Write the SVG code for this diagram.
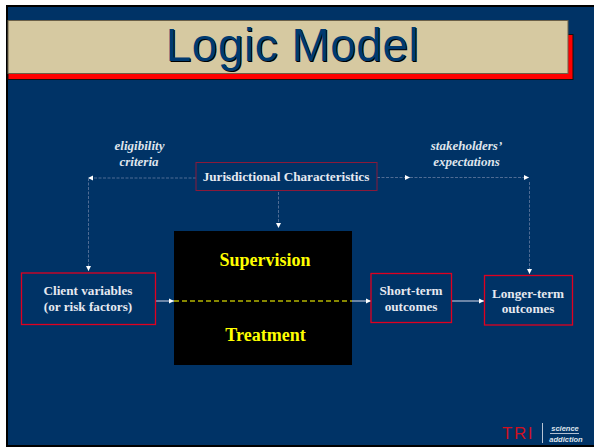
<svg xmlns="http://www.w3.org/2000/svg" width="594" height="447" viewBox="0 0 594 447">
<style>
.b{font-family:"Liberation Serif",serif;font-weight:bold;font-size:13.200px;fill:#e6e9f0;text-anchor:middle}
.i{font-family:"Liberation Serif",serif;font-weight:bold;font-style:italic;font-size:13px;fill:#dfe4ec;text-anchor:middle}
.y{font-family:"Liberation Serif",serif;font-weight:bold;font-size:18px;fill:#ffff00;text-anchor:middle}
.d{fill:none;stroke:#4f6c94;stroke-width:1;stroke-dasharray:3 1.5}
.s{fill:none;stroke:#8fa2be;stroke-width:1.5}
.box{fill:#003366;stroke:#e00020;stroke-width:1.3}
</style>
<defs><marker id="a" markerUnits="userSpaceOnUse" markerWidth="6" markerHeight="6" refX="5" refY="3" orient="auto"><path d="M0 0.5L5 3L0 5.5Z" fill="#fff"/></marker></defs>
<rect width="594" height="447" fill="#fff"/>
<rect x="6" y="5" width="588" height="442" fill="#000"/>
<rect x="8" y="7" width="586" height="438" fill="#003366"/>
<g id="title">
<rect x="8" y="34.500" width="565" height="45" fill="#ff0000" stroke="#111" stroke-width="1"/>
<rect x="8" y="20.500" width="560" height="53" fill="#d6c9a1" stroke="#6b6048" stroke-width="1"/>
<text x="293.500" y="62" font-family="Liberation Sans,sans-serif" font-size="46" letter-spacing="0.500" text-anchor="middle" fill="#000">Logic Model</text>
<text x="292.500" y="61" font-family="Liberation Sans,sans-serif" font-size="46" letter-spacing="0.500" text-anchor="middle" fill="#003a70">Logic Model</text>
</g>
<g id="connectors">
<path class="d" d="M196 178H88" marker-end="url(#a)"/>
<path class="d" d="M88.500 178V271" marker-end="url(#a)"/>
<path class="d" d="M377 177.500H410" marker-end="url(#a)"/>
<path class="d" d="M410 177.500H529" marker-end="url(#a)"/>
<path class="d" d="M529.500 182V274" marker-end="url(#a)"/>
<path class="d" d="M278.500 192V228" marker-end="url(#a)"/>
<path class="s" d="M155 301H174" marker-end="url(#a)"/>
<path class="s" d="M351 301H371" marker-end="url(#a)"/>
<path class="s" d="M452 301H484" marker-end="url(#a)"/>
</g>
<g id="center">
<rect x="174" y="231" width="178" height="134" fill="#000"/>
<path d="M174 301H352" stroke="#b5b500" stroke-width="1.300" stroke-dasharray="5 3" fill="none"/>
<text class="y" x="265" y="266">Supervision</text>
<text class="y" x="265.500" y="341">Treatment</text>
</g>
<g id="jurisdictional">
<rect x="196" y="162.500" width="181" height="28" fill="none" stroke="#8a1a3a" stroke-width="1"/>
<text class="b" x="286" y="181">Jurisdictional Characteristics</text>
</g>
<g id="client">
<rect class="box" x="21.500" y="273" width="134" height="51.500"/>
<text class="b" x="88" y="295">Client variables</text>
<text class="b" x="88" y="311">(or risk factors)</text>
</g>
<g id="short">
<rect class="box" x="371" y="273.500" width="80.500" height="49"/>
<text class="b" x="411" y="295">Short-term</text>
<text class="b" x="411" y="311">outcomes</text>
</g>
<g id="longer">
<rect class="box" x="484.500" y="275.500" width="88" height="49.500"/>
<text class="b" x="528" y="298">Longer-term</text>
<text class="b" x="528" y="313">outcomes</text>
</g>
<g id="labels">
<text class="i" x="139.500" y="150">eligibility</text>
<text class="i" x="139" y="166">criteria</text>
<text class="i" x="466.500" y="150">stakeholders’</text>
<text class="i" x="466.500" y="166">expectations</text>
</g>
<g id="logo">
<text x="502" y="439" font-family="Liberation Sans,sans-serif" font-size="17" letter-spacing="1.500" fill="#d01020">TRI</text>
<path d="M542.500 423V443" stroke="#b8c4d4" stroke-width="1"/>
<text x="565" y="431" font-family="Liberation Sans,sans-serif" font-size="7.500" font-weight="bold" font-style="italic" text-anchor="middle" fill="#dfe4ec">science</text>
<path d="M550 433.500H579" stroke="#dfe4ec" stroke-width="0.800"/>
<text x="566" y="442" font-family="Liberation Sans,sans-serif" font-size="7.500" font-weight="bold" font-style="italic" text-anchor="middle" fill="#dfe4ec">addiction</text>
</g>
</svg>
